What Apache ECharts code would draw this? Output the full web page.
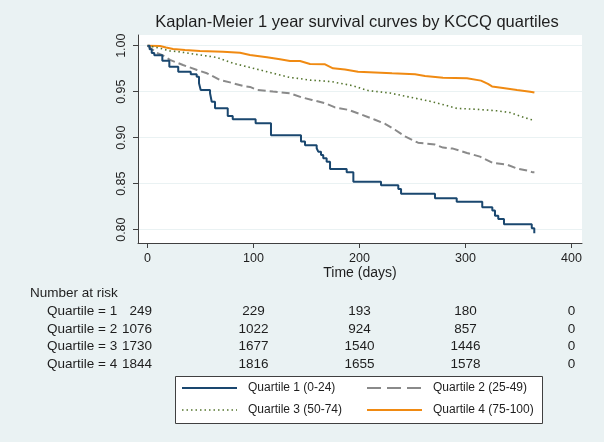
<!DOCTYPE html>
<html><head><meta charset="utf-8">
<script src="https://cdn.jsdelivr.net/npm/echarts@6/dist/echarts.min.js"></script>
<style>html,body{margin:0;padding:0;background:#eaf2f3}#c{width:604px;height:442px}</style>
</head><body><div id="c"></div>
<script>
// ---- data ----
const seriesNames = ['Quartile 1 (0-24)', 'Quartile 2 (25-49)', 'Quartile 3 (50-74)', 'Quartile 4 (75-100)'];
const q1Time = [0, 2, 4, 6.4, 14, 20.6, 29, 40.8, 46.4, 48.6, 50.2, 59, 60.6, 63.7, 75.7, 80.4, 102, 116.5, 144.8, 148.6, 159.6, 161.1, 163.7, 165.8, 169, 172.2, 187.9, 194.2, 220.3, 236.6, 239.2, 271.2, 291.7, 315.8, 325.3, 327.8, 330.9, 336.3, 362.5, 364.9, 365];
const q1Surv = [1, 0.996, 0.992, 0.9896, 0.9837, 0.9772, 0.9717, 0.9689, 0.9663, 0.9591, 0.9518, 0.9483, 0.9391, 0.9320, 0.9236, 0.9200, 0.9157, 0.9026, 0.8957, 0.8917, 0.8885, 0.8848, 0.8812, 0.8776, 0.8739, 0.8660, 0.8624, 0.8522, 0.8483, 0.8442, 0.8391, 0.8341, 0.8304, 0.8243, 0.8207, 0.8152, 0.8116, 0.8059, 0.8015, 0.7961, 0.7961];
const q2Time = [0, 8.7, 14.6, 21.2, 33.5, 46.7, 56.1, 68.4, 77.8, 90.1, 96.7, 103.3, 118.4, 134.4, 145.5, 155.2, 167.5, 176.9, 189.2, 202.4, 214.6, 224.1, 233.5, 242.9, 255.2, 271.2, 278.8, 288.2, 301.4, 313.7, 326, 339.2, 348.6, 358, 363.7, 365];
const q2Surv = [1, 0.9921, 0.9894, 0.9845, 0.9790, 0.9736, 0.9700, 0.9627, 0.9601, 0.9562, 0.9552, 0.9519, 0.9501, 0.9483, 0.9438, 0.9410, 0.9374, 0.9329, 0.9303, 0.9249, 0.9195, 0.9151, 0.9086, 0.9014, 0.8945, 0.8925, 0.8892, 0.8881, 0.8834, 0.8794, 0.8725, 0.8707, 0.8664, 0.8642, 0.8623, 0.8623];
const q3Time = [0, 11.8, 21.2, 27.8, 46.7, 65.6, 80.7, 96.7, 112.7, 125, 134.4, 142, 151.4, 162.7, 174.1, 181.6, 192.9, 208, 228.8, 244.8, 266.5, 280.7, 292.0, 310.8, 329.7, 342, 351.4, 360.8, 364.6, 365];
const q3Surv = [1, 0.9972, 0.9942, 0.9937, 0.9904, 0.9872, 0.9809, 0.9763, 0.9717, 0.9681, 0.9654, 0.9645, 0.9627, 0.9619, 0.9608, 0.9591, 0.9567, 0.9512, 0.9485, 0.9447, 0.9396, 0.9354, 0.9318, 0.9308, 0.9292, 0.9273, 0.9235, 0.9199, 0.9192, 0.9192];
const q4Time = [0, 11.8, 17.5, 24.1, 35.4, 49.5, 71.2, 87.3, 96.7, 112.7, 125, 134.4, 143.9, 153.3, 167.5, 175, 186.3, 198.6, 230.7, 252.4, 261.8, 278.8, 301.4, 314.6, 321.2, 325, 335.4, 348.6, 361, 365];
const q4Surv = [1, 0.9997, 0.9980, 0.9964, 0.9953, 0.9942, 0.9934, 0.9923, 0.9899, 0.9874, 0.9852, 0.9834, 0.9834, 0.9801, 0.9797, 0.9754, 0.9741, 0.9717, 0.9700, 0.9689, 0.9671, 0.9652, 0.9646, 0.9620, 0.9584, 0.9557, 0.9541, 0.9519, 0.9500, 0.9490];
const xTicks = [0, 100, 200, 300, 400];
const yTicks = [0.80, 0.85, 0.90, 0.95, 1.00];
const riskTimes = [0, 100, 200, 300, 400];
const riskLabels = ['Quartile = 1', 'Quartile = 2', 'Quartile = 3', 'Quartile = 4'];
const riskQ1 = [249, 229, 193, 180, 0];
const riskQ2 = [1076, 1022, 924, 857, 0];
const riskQ3 = [1730, 1677, 1540, 1446, 0];
const riskQ4 = [1844, 1816, 1655, 1578, 0];

// ---- styles ----
const FONT = '"Liberation Sans", Arial, sans-serif';
const colors = ['#1a476f', '#8a8a8a', '#55752f', '#f08a12'];
const lineTypes = ['solid', [8, 4], [1.5, 3], 'solid'];
const legendDash = [null, [14, 6], [1.5, 3], null];
const widths = [2, 2, 1.6, 2];
const zip = (t, s) => t.map((v, i) => [v, s[i]]);
const seriesData = [zip(q1Time, q1Surv), zip(q2Time, q2Surv), zip(q3Time, q3Surv), zip(q4Time, q4Surv)];

const chart = echarts.init(document.getElementById('c'), null, {renderer: 'canvas'});
const option = {
  backgroundColor: '#eaf2f3',
  animation: false,
  grid: {left: 138, right: 22, top: 35, bottom: 199, show: true, backgroundColor: '#ffffff', borderWidth: 0},
  xAxis: {
    type: 'value', min: -8.96, max: 409.9,
    name: 'Time (days)', nameLocation: 'middle', nameGap: 21,
    nameTextStyle: {fontFamily: FONT, fontSize: 14, color: '#1e1e1e'},
    axisLine: {show: true, onZero: false, lineStyle: {color: '#404040', width: 1}},
    axisTick: {show: true, length: 5, customValues: xTicks, lineStyle: {color: '#404040'}},
    axisLabel: {customValues: xTicks, fontFamily: FONT, fontSize: 12.5, color: '#1e1e1e', margin: 9},
    splitLine: {show: false}
  },
  yAxis: {
    type: 'value', min: 0.7855, max: 1.0116,
    axisLine: {show: true, onZero: false, lineStyle: {color: '#404040', width: 1}},
    axisTick: {show: true, length: 5, customValues: yTicks, lineStyle: {color: '#404040'}},
    axisLabel: {customValues: yTicks, rotate: 90, fontFamily: FONT, fontSize: 12.5, color: '#1e1e1e', margin: 10,
      formatter: v => v.toFixed(2)},
    splitLine: {show: true, lineStyle: {color: '#eaf2f3', width: 1}}
  },
  series: seriesData.map((d, i) => ({
    name: seriesNames[i], type: 'line', data: d, step: i === 0 ? 'end' : false,
    showSymbol: false, z: 10 - i,
    lineStyle: {color: colors[i], width: widths[i], type: lineTypes[i]}
  }))
};
chart.setOption(option);

// ---- number-at-risk table and legend as graphics ----
const g = [];
g.push({type: 'text', x: 357, y: 22, style: {text: 'Kaplan-Meier 1 year survival curves by KCCQ quartiles',
  font: '16.5px ' + FONT, fill: '#1e1e1e', textAlign: 'center', textVerticalAlign: 'middle'}});
g.push({type: 'text', x: 30, y: 293, style: {text: 'Number at risk', font: '13.5px ' + FONT, fill: '#1e1e1e', textVerticalAlign: 'middle'}});
const riskRows = [riskQ1, riskQ2, riskQ3, riskQ4];
const rowY = [311, 329, 346, 364];
riskRows.forEach((row, r) => {
  g.push({type: 'text', x: 47, y: rowY[r], style: {text: riskLabels[r], font: '13.5px ' + FONT, fill: '#1e1e1e', textVerticalAlign: 'middle'}});
  row.forEach((n, c) => {
    const px = chart.convertToPixel({xAxisIndex: 0}, riskTimes[c]);
    g.push({type: 'text', x: c === 0 ? 152 : px, y: rowY[r], style: {text: String(n), font: '13.5px ' + FONT, fill: '#1e1e1e',
      textAlign: c === 0 ? 'right' : 'center', textVerticalAlign: 'middle'}});
  });
});
// legend box
g.push({type: 'rect', shape: {x: 175.5, y: 376.5, width: 367, height: 47}, style: {fill: '#ffffff', stroke: '#404040', lineWidth: 1}});
const legPos = [[182, 388], [367, 388], [182, 410], [367, 410]];
seriesNames.forEach((nm, i) => {
  const [lx, ly] = legPos[i];
  g.push({type: 'line', shape: {x1: lx, y1: ly, x2: lx + 55, y2: ly},
    style: {stroke: colors[i], lineWidth: widths[i], lineDash: legendDash[i]}});
  g.push({type: 'text', x: lx + 66, y: ly, style: {text: nm, font: '12px ' + FONT, fill: '#1e1e1e', textVerticalAlign: 'middle'}});
});
chart.setOption({graphic: g});
</script></body></html>
